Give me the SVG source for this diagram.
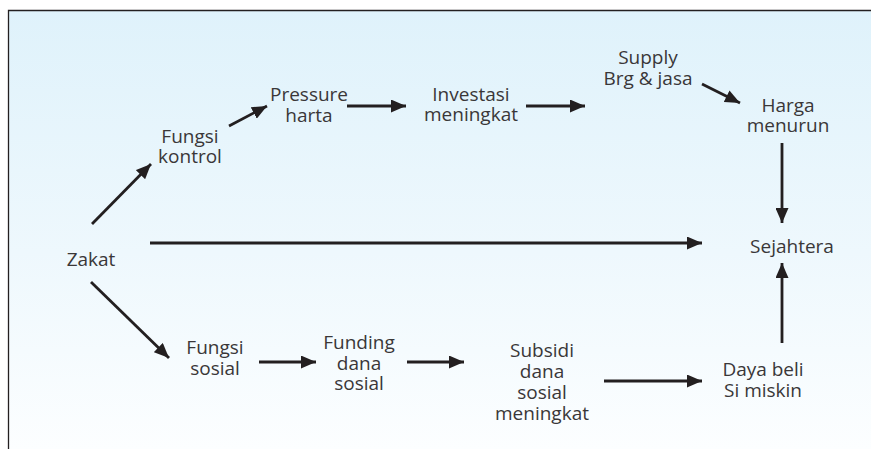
<svg xmlns="http://www.w3.org/2000/svg" width="871" height="449" viewBox="0 0 871 449">
<defs>
<linearGradient id="bg" x1="0" y1="0" x2="0" y2="1">
<stop offset="0" stop-color="#dff2fb"/>
<stop offset="0.55" stop-color="#eef8fd"/>
<stop offset="1" stop-color="#fcfeff"/>
</linearGradient>
<marker id="ah" viewBox="0 0 15 13" refX="15" refY="6.5" markerWidth="15" markerHeight="13" markerUnits="userSpaceOnUse" orient="auto">
<path d="M0,0 L15,6.5 L0,13 Z" fill="#231f20"/>
</marker>
<style>
text{font-family:"Open Sans","Noto Sans","Liberation Sans",sans-serif;font-size:19px;fill:#3a3738;text-anchor:middle}
.c line{stroke:#231f20;stroke-width:2.8;marker-end:url(#ah)}
</style>
</defs>
<rect x="0" y="0" width="871" height="449" fill="#ffffff"/>
<rect x="8.5" y="10.5" width="863" height="439" fill="url(#bg)"/>
<path d="M8.5,449 V10.5 H871" fill="none" stroke="#231f20" stroke-width="1.3"/>
<g class="c" id="connectors">
<line x1="92" y1="224" x2="151" y2="164"/>
<line x1="229" y1="126" x2="267" y2="106"/>
<line x1="347" y1="106" x2="406" y2="106"/>
<line x1="526" y1="106" x2="585" y2="106"/>
<line x1="702" y1="84" x2="740" y2="103"/>
<line x1="782" y1="143" x2="782" y2="223"/>
<line x1="150" y1="243" x2="702" y2="243"/>
<line x1="91" y1="282" x2="169" y2="358"/>
<line x1="259" y1="362" x2="316" y2="362"/>
<line x1="407" y1="362" x2="464" y2="362"/>
<line x1="604" y1="381" x2="702" y2="381"/>
<line x1="782" y1="343" x2="782" y2="263"/>
</g>
<g id="zakat"><text x="91" y="266">Zakat</text></g>
<g id="fungsi-kontrol"><text x="190" y="143">Fungsi</text><text x="190" y="163">kontrol</text></g>
<g id="pressure-harta"><text x="309" y="101">Pressure</text><text x="309" y="122">harta</text></g>
<g id="investasi"><text x="471" y="101">Investasi</text><text x="471" y="121">meningkat</text></g>
<g id="supply"><text x="648" y="64">Supply</text><text x="648" y="85">Brg &amp; jasa</text></g>
<g id="harga"><text x="788" y="112">Harga</text><text x="788" y="132">menurun</text></g>
<g id="sejahtera"><text x="792" y="253">Sejahtera</text></g>
<g id="fungsi-sosial"><text x="215" y="354">Fungsi</text><text x="215" y="375">sosial</text></g>
<g id="funding"><text x="359" y="349">Funding</text><text x="359" y="370">dana</text><text x="359" y="390">sosial</text></g>
<g id="subsidi"><text x="542" y="357">Subsidi</text><text x="542" y="378">dana</text><text x="542" y="399">sosial</text><text x="542" y="420">meningkat</text></g>
<g id="daya-beli"><text x="763" y="376">Daya beli</text><text x="763" y="397">Si miskin</text></g>
</svg>
